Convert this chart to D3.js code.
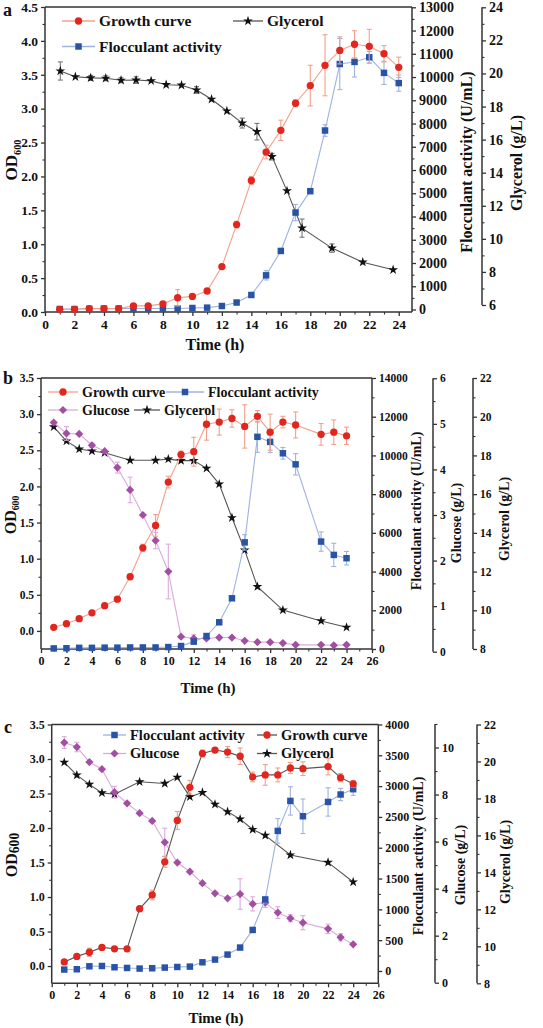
<!DOCTYPE html>
<html><head><meta charset="utf-8">
<script src="https://cdn.jsdelivr.net/npm/d3@7"></script>
<style>
body{margin:0;background:#fff}
svg{display:block}
text{font-family:"Liberation Serif","Times New Roman",serif;font-weight:bold;fill:#111}
</style>
</head><body>
<svg id="chart" width="543" height="1028"></svg>
<script>
// ---------------- Panel a data ----------------
const aTime = [1,2,3,4,5,6,7,8,9,10,11,12,13,14,15,16,17,18,19,20,21,22,23,24];
const aGrowth = [0.04,0.04,0.05,0.05,0.05,0.09,0.09,0.12,0.21,0.23,0.31,0.67,1.29,1.94,2.36,2.68,3.08,3.34,3.64,3.86,3.95,3.92,3.81,3.61];
const aGrowthErr = [0.02,0.01,0.02,0.01,0.01,0.02,0.02,0.02,0.12,0.03,0.03,0.03,0.05,0.06,0.1,0.15,0.05,0.3,0.45,0.2,0.2,0.25,0.12,0.15];
const aFloc = [20,20,30,40,40,40,40,40,40,65,80,150,300,625,1470,2520,4170,5090,7700,10560,10650,10850,10180,9740];
const aFlocErr = [0,0,0,0,0,0,0,0,0,0,0,0,0,0,200,100,350,100,250,1100,650,250,500,350];
const aGlyTime = [1.04,2.06,3.1,4.12,5.16,6.18,7.2,8.22,9.26,10.28,11.3,12.34,13.38,14.38,15.4,16.42,17.44,19.47,21.56,23.62];
const aGly = [20.15,19.8,19.73,19.71,19.59,19.6,19.55,19.32,19.29,19.0,18.44,17.73,17.0,16.48,14.97,12.9,10.65,9.44,8.59,8.13];
const aGlyErr = [0.55,0.1,0.15,0.15,0.15,0.2,0.1,0.1,0.1,0.2,0.1,0.1,0.3,0.5,0.2,0.1,0.55,0.25,0.1,0.1];

// ---------------- Panel b data ----------------
const bTime = [1,2,3,4,5,6,7,8,9,10,11,12,13,14,15,16,17,18,19,20,22,23,24];
const bGrowth = [0.05,0.10,0.17,0.25,0.35,0.44,0.75,1.15,1.46,2.06,2.44,2.48,2.86,2.89,2.94,2.83,2.97,2.75,2.89,2.85,2.72,2.75,2.70];
const bGrowthErr = [0.01,0.01,0.01,0.01,0.01,0.03,0.02,0.05,0.15,0.08,0.05,0.2,0.22,0.18,0.12,0.3,0.08,0.25,0.08,0.18,0.15,0.17,0.12];
const bFloc = [30,40,60,60,70,70,80,80,80,100,155,380,670,1380,2620,5510,10960,10700,10110,9540,5550,4860,4690];
const bFlocErr = [0,0,0,0,0,0,0,0,0,0,0,0,0,0,100,400,800,550,300,550,500,600,350];
const bGlucose = [5.03,4.79,4.78,4.53,4.40,4.04,3.55,3.0,2.44,1.76,0.33,0.29,0.29,0.31,0.31,0.24,0.21,0.21,0.19,0.15,0.15,0.14,0.15];
const bGlucoseErr = [0.03,0.15,0.03,0.05,0.03,0.12,0.28,0.03,0.18,0.6,0.03,0.08,0.03,0.03,0.03,0.03,0.03,0.03,0.03,0.03,0.03,0.03,0.03];
const bGlyTime = [1,2,3,4,5,7,9,10,11,12,13,14,15,16,17,19,22,24];
const bGly = [19.48,18.74,18.33,18.23,18.14,17.75,17.75,17.81,17.73,17.73,17.33,16.52,14.78,13.11,11.22,10.01,9.45,9.12];

// ---------------- Panel c data ----------------
const cTime = [1,2,3,4,5,6,7,8,9,10,11,12,13,14,15,16,17,18,19,20,22,23,24];
const cGrowth = [0.06,0.14,0.20,0.27,0.25,0.25,0.83,1.03,1.51,2.11,2.59,3.08,3.13,3.10,3.04,2.74,2.77,2.77,2.87,2.86,2.89,2.73,2.64];
const cGrowthErr = [0.02,0.03,0.06,0.03,0.02,0.03,0.02,0.07,0.08,0.13,0.1,0.05,0.03,0.08,0.12,0.07,0.15,0.1,0.08,0.1,0.12,0.06,0.05];
const cFloc = [23,28,76,81,60,49,39,44,55,65,71,141,185,266,380,666,1160,2273,2760,2511,2743,2864,2950];
const cFlocErr = [0,0,0,0,0,0,0,0,0,0,0,0,0,0,0,0,50,200,230,280,230,100,100];
const cGlucose = [10.21,10.02,9.38,9.08,8.10,7.63,7.21,6.88,5.97,5.11,4.72,4.23,3.80,3.59,3.77,3.35,3.40,2.98,2.74,2.55,2.29,1.93,1.63];
const cGlucoseErr = [0.25,0.2,0.05,0.05,0.25,0.05,0.05,0.05,0.6,0.05,0.05,0.05,0.05,0.05,0.65,0.3,0.2,0.25,0.15,0.3,0.2,0.15,0.05];
const cGlyTime = [1,2,3,4,5,7,9,10,11,12,13,14,15,16,17,19,22,24];
const cGly = [19.95,19.26,18.76,18.30,18.23,18.90,18.81,19.14,18.09,18.32,17.68,17.28,16.88,16.32,16.0,14.94,14.54,13.48];

// ---------------- Tick labels ----------------
const xTicksA = [0,2,4,6,8,10,12,14,16,18,20,22,24];
const xTicksBC = [0,2,4,6,8,10,12,14,16,18,20,22,24,26];
const odTicksA = [0,0.5,1,1.5,2,2.5,3,3.5,4,4.5];
const odTicksBC = [0,0.5,1,1.5,2,2.5,3,3.5];
const flocTicksA = [0,1000,2000,3000,4000,5000,6000,7000,8000,9000,10000,11000,12000,13000];
const flocTicksB = [0,2000,4000,6000,8000,10000,12000,14000];
const flocTicksC = [0,500,1000,1500,2000,2500,3000,3500,4000];
const glyTicksA = [6,8,10,12,14,16,18,20,22,24];
const glyTicksBC = [8,10,12,14,16,18,20,22];
const gluTicksB = [0,1,2,3,4,5,6];
const gluTicksC = [0,2,4,6,8,10];

// ---------------- Styles ----------------
const RED = "#e0261e", RED_L = "#f3a08a";
const BLUE = "#2853a6", BLUE_L = "#9fb3de";
const PURP = "#a24ea2", PURP_L = "#dcaadc";
const BLK = "#111", GRAY = "#555";
const AX = "#333";

const svg = d3.select("#chart");

function sym(type, size){ return d3.symbol().type(type).size(size)(); }

function drawAxis(g, scale, orient, pos, majors, minors, fmt, fs, ext){
  const gen = orient === "left" ? d3.axisLeft(scale) : orient === "right" ? d3.axisRight(scale) : d3.axisBottom(scale);
  gen.tickValues(majors).tickFormat(fmt).tickSize(4).tickPadding(3);
  const tr = orient === "bottom" ? `translate(0,${pos})` : `translate(${pos},0)`;
  const a = g.append("g").attr("transform", tr).call(gen);
  a.select(".domain").remove();
  a.selectAll(".tick line").attr("stroke", AX).attr("stroke-width", 1.3);
  a.selectAll(".tick text").style("font-size", fs + "px").attr("fill", "#111");
  const mg = orient === "left" ? d3.axisLeft(scale) : orient === "right" ? d3.axisRight(scale) : d3.axisBottom(scale);
  mg.tickValues(minors).tickFormat("").tickSize(2.5);
  const m = g.append("g").attr("transform", tr).call(mg);
  m.select(".domain").remove();
  m.selectAll(".tick line").attr("stroke", AX).attr("stroke-width", 1.1);
  if (orient === "bottom") g.append("line").attr("x1", ext[0]).attr("x2", ext[1]).attr("y1", pos).attr("y2", pos).attr("stroke", AX).attr("stroke-width", 1.5);
  else g.append("line").attr("x1", pos).attr("x2", pos).attr("y1", ext[0]).attr("y2", ext[1]).attr("stroke", AX).attr("stroke-width", 1.5);
}

function drawSeries(g, xs, ys, errs, xS, yS, o){
  const line = d3.line().x((d,i)=>xS(xs[i])).y(d=>yS(d));
  g.append("path").attr("d", line(ys)).attr("fill","none").attr("stroke", o.line).attr("stroke-width", 1.1);
  if (errs){
    const eg = g.append("g").attr("stroke", o.err).attr("stroke-width", 1.1);
    ys.forEach((v,i)=>{
      const e = errs[i]; if (!e) return;
      const cx = xS(xs[i]), y1 = yS(v - e), y2 = yS(v + e);
      if (Math.abs(y1 - y2) < 4) return;
      eg.append("line").attr("x1",cx).attr("x2",cx).attr("y1",y1).attr("y2",y2);
      eg.append("line").attr("x1",cx-2.5).attr("x2",cx+2.5).attr("y1",y1).attr("y2",y1);
      eg.append("line").attr("x1",cx-2.5).attr("x2",cx+2.5).attr("y1",y2).attr("y2",y2);
    });
  }
  const p = sym(o.type, o.size);
  g.append("g").selectAll("path").data(ys).join("path")
    .attr("d", p).attr("fill", o.mark)
    .attr("transform",(d,i)=>`translate(${xS(xs[i])},${yS(d)})` + (o.rot ? " rotate(45)" : ""));
}

function legendItem(g, x1, x2, y, label, o, fs){
  g.append("line").attr("x1",x1).attr("x2",x2).attr("y1",y).attr("y2",y).attr("stroke",o.line).attr("stroke-width",1.3);
  g.append("path").attr("d", sym(o.type, o.size)).attr("fill", o.mark)
    .attr("transform", `translate(${(x1+x2)/2},${y})` + (o.rot ? " rotate(45)" : ""));
  g.append("text").attr("x", x2 + 4).attr("y", y).attr("dy","0.33em").style("font-size", fs+"px").text(label);
}

function vLabel(g, x, y, txt, fs){
  g.append("text").attr("transform",`translate(${x},${y}) rotate(-90)`).attr("text-anchor","middle")
   .attr("dy","0.35em").style("font-size", fs+"px").text(txt);
}
function odLabel(g, x, y, fs, subScale, subDy){
  const t = g.append("text").attr("transform",`translate(${x},${y}) rotate(-90)`).attr("text-anchor","middle")
   .attr("dy","0.35em").style("font-size", fs+"px");
  t.append("tspan").text("OD");
  t.append("tspan").attr("dy", subDy).style("font-size", (fs*subScale)+"px").text("600");
}

const minorsOf = (lo, hi, step) => { const r = []; for (let v = lo; v <= hi + 1e-9; v += step) r.push(+v.toFixed(4)); return r; };

const fmtOD = d3.format(".1f"), fmtI = d3.format("d");

const styGrowth = {line: RED_L, mark: RED, err: RED_L, type: d3.symbolCircle, size: 42};
const styFloc = {line: BLUE_L, mark: BLUE, err: BLUE_L, type: d3.symbolSquare, size: 42};
const styGlu = {line: PURP_L, mark: PURP, err: PURP_L, type: d3.symbolSquare, size: 34, rot: true};
const styGly = {line: GRAY, mark: BLK, err: "#777", type: d3.symbolStar, size: 30};

// ================= Panel a =================
(function(){
  const g = svg.append("g");
  const L=45, R=412, T=7, B=312;
  const x = d3.scaleLinear().domain([0,24.9]).range([L,R]);
  const yOD = d3.scaleLinear().domain([0,4.5]).range([B,T]);
  const yF = d3.scaleLinear().domain([0,13000]).range([309.5,7.3]);
  const yG = d3.scaleLinear().domain([6,24]).range([305,7.3]);
  g.append("line").attr("x1",L).attr("x2",R).attr("y1",T).attr("y2",T).attr("stroke",AX).attr("stroke-width",1.5);
  drawAxis(g, x, "bottom", B, xTicksA, minorsOf(1,23,2), fmtI, 13.5, [L,R]);
  drawAxis(g, yOD, "left", L, odTicksA, minorsOf(0.25,4.25,0.5), fmtOD, 13.5, [B,T]);
  drawAxis(g, yF, "right", R, flocTicksA, minorsOf(500,12500,1000), fmtI, 14, [B,T]);
  drawAxis(g, yG, "right", 482, glyTicksA, minorsOf(7,23,2), fmtI, 14, [305,7.3]);
  drawSeries(g, aGlyTime, aGly, aGlyErr, x, yG, styGly);
  drawSeries(g, aTime, aFloc, aFlocErr, x, yF, styFloc);
  drawSeries(g, aTime, aGrowth, aGrowthErr, x, yOD, styGrowth);
  legendItem(g, 62, 95, 21, "Growth curve", styGrowth, 15.5);
  legendItem(g, 233, 263, 21, "Glycerol", styGly, 15.5);
  legendItem(g, 62, 95, 46.5, "Flocculant activity", styFloc, 15.5);
  odLabel(g, 11, 160, 17, 0.6, "0.35em");
  g.append("text").attr("x",215).attr("y",350).attr("text-anchor","middle").style("font-size","16px").text("Time (h)");
  vLabel(g, 466, 162, "Flocculant activity (U/mL)", 16);
  vLabel(g, 516, 163, "Glycerol (g/L)", 16);
  g.append("text").attr("x",3).attr("y",16).style("font-size","18px").text("a");
})();

// ================= Panel b =================
(function(){
  const g = svg.append("g");
  const L=41, R=372, T=378, B=649;
  const x = d3.scaleLinear().domain([0,26]).range([L,R]);
  const yOD = d3.scaleLinear().domain([-0.25,3.5]).range([B,T]);
  const yF = d3.scaleLinear().domain([0,14000]).range([B,T]);
  const yGl = d3.scaleLinear().domain([0,6]).range([651.7,378.3]);
  const yG = d3.scaleLinear().domain([8,22]).range([B,T]);
  g.append("line").attr("x1",L).attr("x2",R).attr("y1",T).attr("y2",T).attr("stroke",AX).attr("stroke-width",1.5);
  drawAxis(g, x, "bottom", B, xTicksBC, minorsOf(1,25,2), fmtI, 12, [L,R]);
  drawAxis(g, yOD, "left", L, odTicksBC, minorsOf(0.25,3.25,0.5), fmtOD, 11.5, [B,T]);
  drawAxis(g, yF, "right", R, flocTicksB, minorsOf(1000,13000,2000), fmtI, 11.5, [B,T]);
  drawAxis(g, yGl, "right", 433, gluTicksB, minorsOf(0.5,5.5,1), fmtI, 11.5, [651.7,378.3]);
  drawAxis(g, yG, "right", 473, glyTicksBC, minorsOf(9,21,2), fmtI, 11.5, [B,T]);
  drawSeries(g, bGlyTime, bGly, null, x, yG, styGly);
  drawSeries(g, bTime, bGlucose, bGlucoseErr, x, yGl, styGlu);
  drawSeries(g, bTime, bFloc, bFlocErr, x, yF, styFloc);
  drawSeries(g, bTime, bGrowth, bGrowthErr, x, yOD, styGrowth);
  legendItem(g, 48, 78, 392, "Growth curve", styGrowth, 14);
  legendItem(g, 166, 204, 392, "Flocculant activity", styFloc, 14);
  legendItem(g, 48, 78, 410, "Glucose", styGlu, 14);
  legendItem(g, 134, 160, 410, "Glycerol", styGly, 14);
  odLabel(g, 10, 515, 16, 0.6, "0.35em");
  g.append("text").attr("x",208).attr("y",693).attr("text-anchor","middle").style("font-size","15px").text("Time (h)");
  vLabel(g, 416, 511, "Flocculant activity (U/mL)", 14);
  vLabel(g, 456, 523, "Glucose (g/L)", 14);
  vLabel(g, 504, 519, "Glycerol (g/L)", 14);
  g.append("text").attr("x",3).attr("y",384).style("font-size","18px").text("b");
})();

// ================= Panel c =================
(function(){
  const g = svg.append("g");
  const L=51.7, R=378.3, T=724.5, B=983.3;
  const x = d3.scaleLinear().domain([0,26]).range([L,R]);
  const yOD = d3.scaleLinear().domain([-0.25,3.5]).range([B,T]);
  const yF = d3.scaleLinear().domain([-200,4000]).range([B,T]);
  const yGl = d3.scaleLinear().domain([0,11]).range([982.7,724]);
  const yG = d3.scaleLinear().domain([8,22]).range([B,T]);
  g.append("line").attr("x1",L).attr("x2",R).attr("y1",T).attr("y2",T).attr("stroke",AX).attr("stroke-width",1.5);
  drawAxis(g, x, "bottom", B, xTicksBC, minorsOf(1,25,2), fmtI, 12, [L,R]);
  drawAxis(g, yOD, "left", L, odTicksBC, minorsOf(0.25,3.25,0.5), fmtOD, 12, [B,T]);
  drawAxis(g, yF, "right", R, flocTicksC, minorsOf(250,3750,500), fmtI, 12, [B,T]);
  drawAxis(g, yGl, "right", 435, gluTicksC, minorsOf(1,11,2), fmtI, 12, [982.7,724]);
  drawAxis(g, yG, "right", 477, glyTicksBC, minorsOf(9,21,2), fmtI, 12, [B,T]);
  const styGrowthC = Object.assign({}, styGrowth, {line: GRAY});
  drawSeries(g, cGlyTime, cGly, null, x, yG, styGly);
  drawSeries(g, cTime, cGlucose, cGlucoseErr, x, yGl, styGlu);
  drawSeries(g, cTime, cFloc, cFlocErr, x, yF, styFloc);
  drawSeries(g, cTime, cGrowth, cGrowthErr, x, yOD, styGrowthC);
  legendItem(g, 103, 126, 735, "Flocculant activity", styFloc, 14.5);
  legendItem(g, 257, 277, 735, "Growth curve", styGrowthC, 14.5);
  legendItem(g, 103, 126, 753.5, "Glucose", styGlu, 14.5);
  legendItem(g, 257, 277, 753.5, "Glycerol", styGly, 14.5);
  odLabel(g, 11, 855, 16, 0.85, "0.15em");
  g.append("text").attr("x",216).attr("y",1023).attr("text-anchor","middle").style("font-size","15px").text("Time (h)");
  vLabel(g, 418, 856, "Flocculant activity (U/mL)", 14);
  vLabel(g, 460, 865, "Glucose (g/L)", 14);
  vLabel(g, 505, 862, "Glycerol (g/L)", 14);
  g.append("text").attr("x",4).attr("y",733).style("font-size","18px").text("c");
})();
</script>
</body></html>
